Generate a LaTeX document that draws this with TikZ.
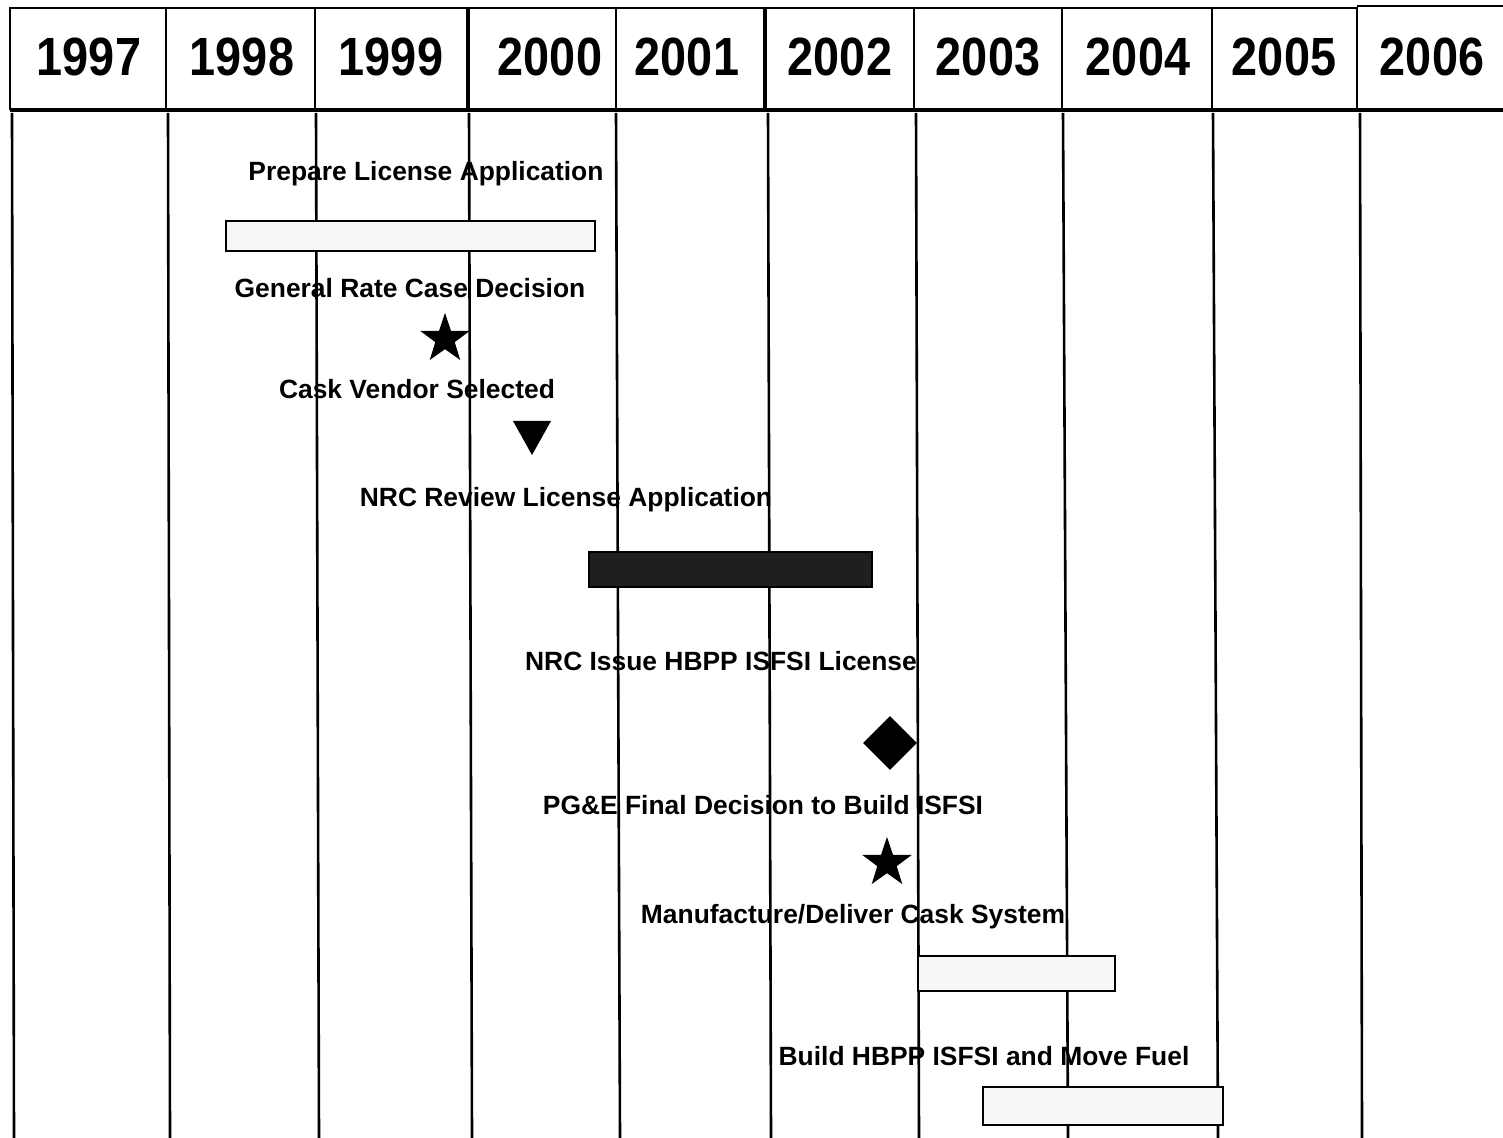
\documentclass[tikz,border=0pt]{standalone}
\usepackage{fontspec}
\setmainfont{Liberation Sans}
\usetikzlibrary{shapes.geometric}
\begin{document}
\begin{tikzpicture}[x=0.5pt,y=-0.5pt,
  yearlbl/.style={anchor=base,inner sep=0pt,font=\bfseries\fontsize{23.4}{26}\selectfont},
  tasklbl/.style={anchor=base,inner sep=0pt,font=\bfseries\fontsize{13.2}{15}\selectfont},
  gridline/.style={line width=1.3pt,black},
  headline/.style={line width=1.1pt,black},
  lightbar/.style={draw=black,line width=1.1pt,fill=gray!6},
  darkbar/.style={draw=black,line width=1.1pt,fill=black!88},
  starmark/.style={star,star points=5,star point ratio=2.55,fill=black,draw=none,inner sep=0pt,minimum size=26pt},
  diamark/.style={diamond,fill=black,draw=none,inner sep=0pt,minimum width=27pt,minimum height=27pt}
]
\useasboundingbox (0,0) rectangle (1503,1138);
% header frame
\draw[headline] (10,8) -- (1357,8);
\draw[headline] (1357,6) -- (1503,6);
\draw[line width=1.7pt] (10,110) -- (1503,110);
\foreach \x in {10,166,315,616,914,1062,1212,1357}{\draw[headline] (\x,7) -- (\x,110);}
\foreach \x in {468,765}{\draw[line width=1.6pt] (\x,7) -- (\x,110);}
% year labels
\node[yearlbl] (y1997) at (89,76) {\scalebox{1}[1.15]{1997}};
\node[yearlbl] (y1998) at (242,76) {\scalebox{1}[1.15]{1998}};
\node[yearlbl] (y1999) at (391,76) {\scalebox{1}[1.15]{1999}};
\node[yearlbl] (y2000) at (550,76) {\scalebox{1}[1.15]{2000}};
\node[yearlbl] (y2001) at (687,76) {\scalebox{1}[1.15]{2001}};
\node[yearlbl] (y2002) at (840,76) {\scalebox{1}[1.15]{2002}};
\node[yearlbl] (y2003) at (988,76) {\scalebox{1}[1.15]{2003}};
\node[yearlbl] (y2004) at (1138,76) {\scalebox{1}[1.15]{2004}};
\node[yearlbl] (y2005) at (1284,76) {\scalebox{1}[1.15]{2005}};
\node[yearlbl] (y2006) at (1432,76) {\scalebox{1}[1.15]{2006}};
% body grid lines
\foreach \xt/\xb in {12/14,168/170,316/319,469/472,616/620,768/771,916/919,1063/1068,1213/1218,1360/1362}{
  \draw[gridline] (\xt,113) -- (\xb,1138);
}
% tasks
\node[tasklbl] (t1) at (426,181) {Prepare License Application};
\draw[lightbar] (226,221) rectangle (595,251);
\node[tasklbl] (t2) at (410,298) {General Rate Case Decision};
\node[starmark] (s1) at (445,339) {};
\node[tasklbl] (t3) at (417,399) {Cask Vendor Selected};
\fill[black] (513,421) -- (551,421) -- (532,455) -- cycle;
\node[tasklbl] (t4) at (566,507) {NRC Review License Application};
\draw[darkbar] (589,552) rectangle (872,587);
\node[tasklbl] (t5) at (721,670) {NRC Issue HBPP ISFSI License};
\node[diamark] (d1) at (890,743) {};
\node[tasklbl] (t6) at (763,814) {PG\&E Final Decision to Build ISFSI};
\node[starmark] (s2) at (887,863) {};
\node[tasklbl] (t7) at (853,923) {Manufacture/Deliver Cask System};
\draw[lightbar] (918,956) rectangle (1115,991);
\node[tasklbl] (t8) at (984,1065) {Build HBPP ISFSI and Move Fuel};
\draw[lightbar] (983,1087) rectangle (1223,1125);
\end{tikzpicture}
\end{document}
